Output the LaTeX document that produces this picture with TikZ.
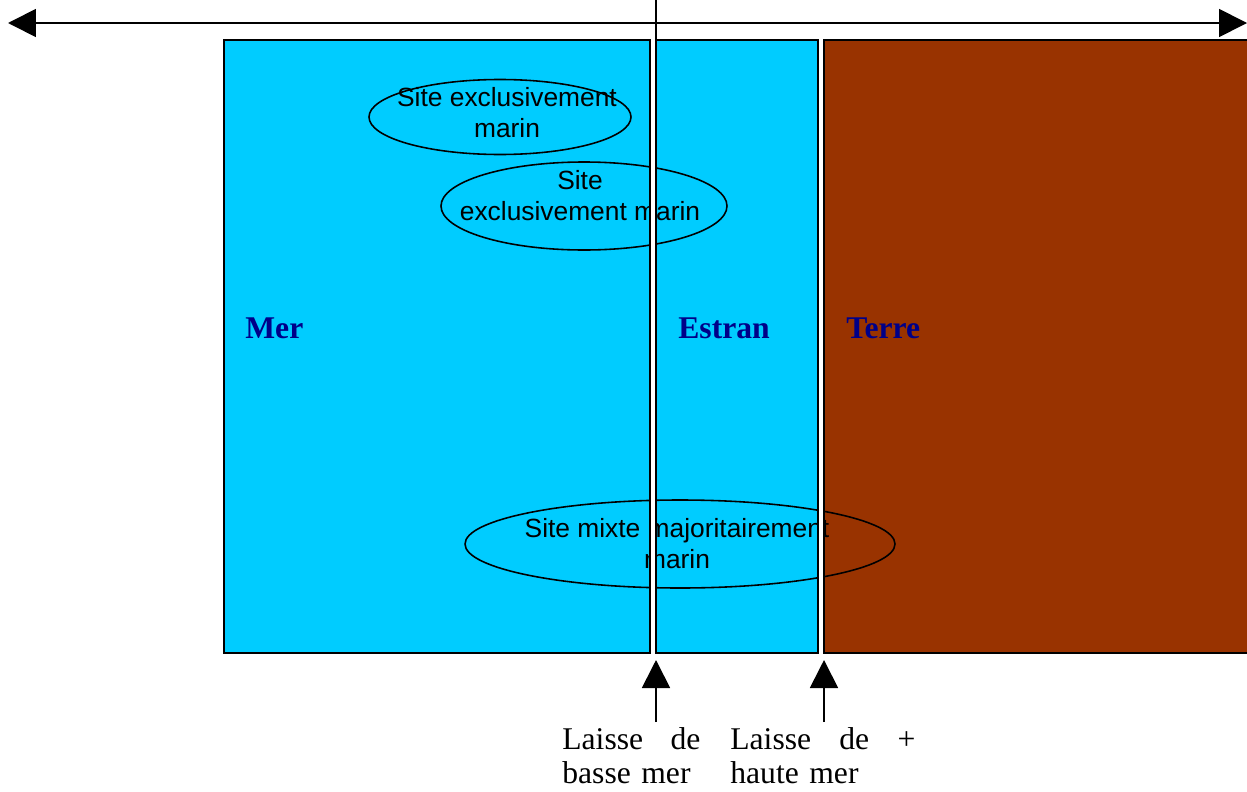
\documentclass[tikz,border=0pt]{standalone}
\usepackage{fontspec}
\setmainfont{Liberation Serif}
\setsansfont{Liberation Sans}
\usetikzlibrary{shapes.geometric,arrows.meta}

\definecolor{mercyan}{HTML}{00CCFF}
\definecolor{terrebrun}{HTML}{993300}
\definecolor{bleunuit}{HTML}{000088}

\tikzstyle{zone} = [rectangle, draw=black, line width=1.4pt, outer sep=0pt, inner sep=0pt, minimum height=613*0.02cm]
\tikzstyle{lbl} = [anchor=west, inner sep=0pt, text=bleunuit, font=\fontsize{18}{20}\selectfont\bfseries]
\tikzstyle{site} = [ellipse, draw=black, line width=0.9pt, inner sep=0pt]
\tikzstyle{sitetxt} = [align=center, inner sep=0pt, font=\sffamily\fontsize{15}{17.6}\selectfont]
\tikzstyle{laisse} = [anchor=north west, inner sep=0pt, text width=138*0.02cm, font=\fontsize{18}{19.6}\selectfont]
\tikzstyle{arrow} = [line width=1pt, -{Triangle[length=0.56cm,width=0.56cm]}]

\begin{document}
\begin{tikzpicture}[x=0.02cm, y=-0.02cm]
    \useasboundingbox (0,0) rectangle (1247,791);
    % les trois zones
    \node[zone, fill=mercyan, minimum width=426*0.02cm] (mer) at (437,346.5) {};
    \node[zone, fill=mercyan, minimum width=162*0.02cm] (estran) at (737,346.5) {};
    \node[zone, fill=terrebrun, minimum width=426*0.02cm] (terre) at (1037,346.5) {};
    \node[lbl] (mertxt) at (245,328) {Mer};
    \node[lbl] (estrantxt) at (678,328) {Estran};
    \node[lbl] (terretxt) at (846,328) {Terre};
    % les sites
    \node[site, minimum width=262*0.02cm, minimum height=75*0.02cm] (site1) at (500,117) {};
    \node[sitetxt] (site1txt) at (507,113) {Site exclusivement\\marin};
    \node[site, minimum width=286*0.02cm, minimum height=88*0.02cm] (site2) at (584,206) {};
    \node[sitetxt] (site2txt) at (580,196) {Site\\exclusivement marin};
    \node[site, minimum width=430*0.02cm, minimum height=88*0.02cm] (site3) at (680,544) {};
    \node[sitetxt] (site3txt) at (677,544) {Site mixte majoritairement\\marin};
    % separations
    \fill[white] (mer.north east) rectangle (estran.south west);
    \fill[white] (estran.north east) rectangle (terre.south west);
    \draw[line width=1.4pt] (mer.north east) -- (mer.south east) (estran.north west) -- (estran.south west);
    \draw[line width=1.4pt] (estran.north east) -- (estran.south east) (terre.north west) -- (terre.south west);
    % axe du haut
    \coordinate (gauche) at (8,23);
    \coordinate (droite) at (1247,23);
    \coordinate (milieu) at (656,23);
    \coordinate (haut) at (656,0);
    \coordinate (bas) at (656,52);
    \draw[arrow] (milieu) -- (gauche);
    \draw[arrow] (milieu) -- (droite);
    \draw[line width=1pt] (haut) -- (bas);
    % laisses
    \coordinate (bm) at (656,722);
    \coordinate (bmtip) at (656,660);
    \coordinate (hm) at (824,722);
    \coordinate (hmtip) at (824,660);
    \draw[arrow] (bm) -- (bmtip);
    \draw[arrow] (hm) -- (hmtip);
    \node[laisse] (bmtxt) at (562,727) {Laisse \hfill de\\basse mer};
    \node[laisse, text width=185*0.02cm] (hmtxt) at (730,727) {Laisse \hfill de \hfill +\\haute mer};
\end{tikzpicture}
\end{document}
